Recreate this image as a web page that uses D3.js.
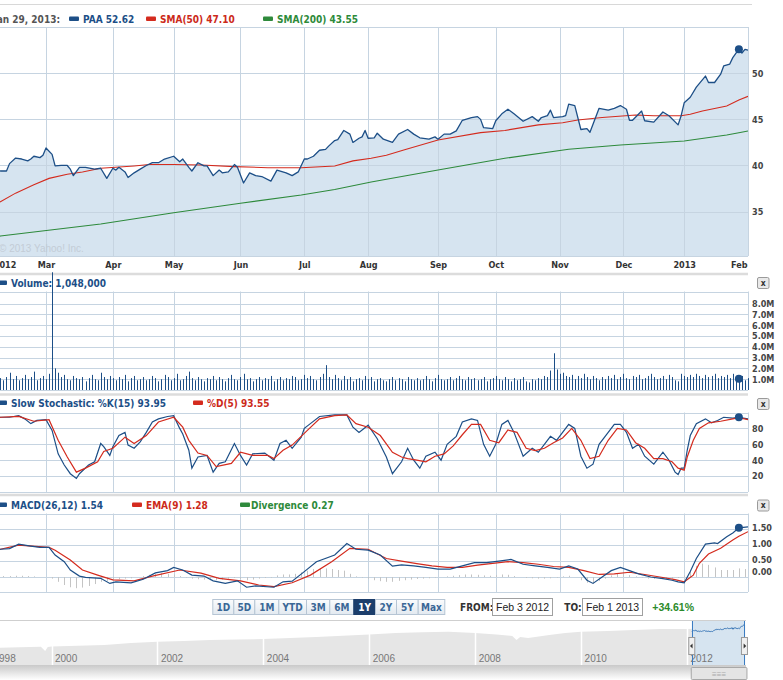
<!DOCTYPE html>
<html><head><meta charset="utf-8">
<script src="https://cdn.jsdelivr.net/npm/d3@7/dist/d3.min.js"></script>
<style>
html,body{margin:0;padding:0;background:#fff;overflow:hidden;}
svg{display:block;}
.b{font-family:"DejaVu Sans Condensed","DejaVu Sans",Verdana,sans-serif;font-weight:bold;}
.a{font-family:"Liberation Sans",Arial,sans-serif;}
</style></head><body>
<svg id="chart" width="783" height="680"></svg>
<script>
// ---------------- DATA ----------------
const holidays=["2012-02-20","2012-04-06","2012-05-28","2012-07-04","2012-09-03","2012-10-29","2012-10-30","2012-11-22","2012-12-25","2013-01-01","2013-01-21"];
const firstDate="2012-02-03", lastDate="2013-02-01", hoverDate="2013-01-29", hoverLabel="Jan 29, 2013:";
const monthLabels=["2012","Mar","Apr","May","Jun","Jul","Aug","Sep","Oct","Nov","Dec","2013","Feb"];
const priceTicks=[35,40,45,50];
const volumeTicks=[1,2,3,4,5,6,7,8];
const stochTicks=[20,40,60,80];
const macdTicks=[0,0.5,1,1.5];

// closing price (session number since Feb 3 2012 -> value)
const priceSession=[0,1,3,5,6,8,10,12,13,14,16,17,18,20,21,23,25,26,27,29,31,34,36,38,40,41,42,44,45,47,49,51,53,55,57,60,62,63,65,66,68,70,71,73,75,76,78,80,81,83,85,87,89,92,94,97,99,101,103,104,106,108,110,111,113,114,116,118,119,121,122,123,124,126,127,129,132,134,137,139,141,144,146,147,149,151,153,155,158,160,161,162,165,166,168,170,172,175,178,180,181,183,184,185,188,189,190,192,194,196,197,200,203,205,207,209,210,211,214,215,218,221,223,226,227,228,230,232,235,236,238,240,241,243,244,246,247,248,249];
const priceClose=[39.2,39.6,39.4,39.4,40.2,40.8,40.7,40.5,40.7,41.0,40.85,41.1,41.9,41.2,39.95,40.0,40.0,39.6,38.9,39.8,39.8,39.6,39.7,38.6,39.7,39.5,39.8,39.3,38.7,39.2,39.6,40.0,40.3,40.3,40.7,41.0,40.4,40.7,39.8,39.4,40.3,39.95,39.95,38.9,39.5,39.2,39.3,40.1,39.8,38.1,39.2,38.9,38.8,38.3,39.5,39.2,38.9,39.3,40.7,40.7,41.0,41.65,41.75,42.1,42.7,42.8,43.8,43.4,42.5,42.95,43.1,43.8,42.95,43.0,43.5,42.85,42.5,43.4,43.9,43.4,43.0,42.85,43.1,42.85,43.4,43.4,43.75,44.9,45.2,45.3,45.0,44.1,44.0,44.85,45.6,46.1,45.6,44.8,45.3,44.8,45.2,45.4,46.0,45.2,45.3,45.4,46.65,46.5,43.9,44.0,43.6,46.2,46.0,46.2,46.5,46.1,44.9,44.9,45.9,44.85,44.7,45.8,45.4,44.4,45.4,46.8,47.4,48.5,49.7,49.0,49.0,49.9,50.8,51.0,51.7,52.62,52.2,52.6,52.5];
const sma50Session=[0,3,8,14,19,25,30,36,47,52,60,69,80,91,102,113,119,125,130,136,147,161,169,180,188,193,201,212,218,227,230,234,242,246,249];
const sma50Value=[35.6,36.07,37.0,37.9,38.6,39.05,39.3,39.7,39.95,40.1,40.1,40.05,39.87,39.76,39.76,39.95,40.5,40.78,41.1,41.7,42.77,43.56,43.8,44.4,44.64,44.93,45.2,45.48,45.4,45.4,45.55,45.9,46.45,47.10,47.5];
const sma200Session=[0,3,36,60,82,102,113,125,147,169,190,207,228,242,246,249];
const sma200Value=[32.0,32.35,33.65,34.88,35.9,36.8,37.4,38.2,39.5,40.78,41.76,42.22,42.66,43.3,43.55,43.74];

// daily volume, millions of shares (one value per session)
const volume=[1.3,1.0,1.5,1.1,0.9,1.2,1.6,1.0,1.3,0.9,
1.1,1.4,1.0,1.2,1.7,0.9,1.1,1.3,1.0,1.5,
10.9,2.0,1.6,1.2,1.4,1.0,0.9,1.3,1.1,1.0,
1.2,0.8,1.1,1.4,1.0,0.9,1.6,1.2,1.0,1.3,
1.1,0.9,1.2,1.0,1.4,0.8,1.1,1.3,0.9,1.0,
1.2,0.9,1.0,1.3,1.1,0.8,1.0,1.4,1.2,0.9,
1.1,1.5,0.9,1.0,1.3,1.7,1.1,0.9,1.2,1.0,
0.8,1.1,1.0,1.3,0.9,1.2,1.0,0.8,1.1,1.4,
1.0,0.9,1.2,1.5,1.0,1.1,0.8,1.0,1.2,0.9,
1.1,1.0,1.3,0.8,1.0,1.2,0.9,1.1,1.0,1.3,
1.2,0.9,1.0,1.4,1.1,1.3,1.0,0.9,1.2,1.5,
2.3,1.2,1.0,1.4,1.1,0.9,1.3,1.0,1.2,0.8,
1.0,1.1,0.9,1.3,1.0,1.2,0.8,1.0,1.1,0.9,
0.8,1.0,1.2,0.9,1.1,1.0,0.8,1.2,1.0,0.9,
1.1,0.9,1.0,1.3,1.0,0.8,1.1,1.4,1.0,0.9,
1.0,1.2,0.9,1.1,1.3,1.0,0.9,1.2,1.0,1.1,
0.9,1.0,1.2,0.8,1.0,1.1,1.3,1.0,0.9,1.2,
1.0,0.8,1.1,0.9,1.0,1.2,0.8,0.7,1.0,0.9,
1.1,1.0,1.3,1.2,1.8,3.4,1.9,1.5,1.6,1.3,
1.2,1.4,1.0,1.3,1.1,1.5,1.2,1.0,1.3,1.1,
0.9,1.2,1.0,1.3,1.1,1.4,1.0,1.2,1.5,1.1,
1.0,1.3,1.2,1.4,1.0,1.1,1.3,1.5,1.2,1.0,
1.1,1.3,1.0,1.4,1.2,0.9,0.8,1.5,1.3,1.2,
1.4,1.2,1.5,1.3,1.1,1.4,1.2,1.3,1.5,1.1,
1.3,1.2,1.4,1.1,1.5,1.2,1.048,1.3,0.9,1.1];

// slow stochastic
const stochKSession=[0,3,6,9,11,13,15,18,20,22,24,26,28,29,32,34,36,37,39,40,42,44,45,47,49,51,53,55,58,60,62,63,65,66,68,71,73,75,77,80,82,84,86,90,93,95,97,99,102,103,105,108,113,117,119,121,124,127,130,132,135,137,139,141,143,146,148,150,153,155,158,160,162,164,166,168,170,172,175,178,180,182,184,186,188,190,192,194,196,198,200,203,205,207,209,211,213,215,218,221,223,225,226,227,228,229,230,232,235,237,239,241,244,246,249];
const stochK=[93,94,94,96,92,86,90,91,77.5,48,34,23,17,23,34,38,61,57,46,57,71,75,59,55,63,75,88,92,95,96,80,73,52.5,30,44,46,25,36,38,61,46,34,48,49,40,61,65,55,69,80,86,95,97,97,81.5,75,84,67,44,23,38,55,40,30,45,50,40,60,70,88,92,90,60,45,60,85,90,75,45,55,50,60,70,65,75,85,80,45,30,35,60,75,85,85,75,55,60,45,35,50,40,25,22,30,30,52.5,71,86,92,87,90,94,93,93.95,92];
const stochDSession=[0,3,9,14,19,22,25,28,31,35,37,40,44,47,51,55,60,63,65,68,71,74,79,82,86,91,93,96,99,104,108,113,117,120,124,128,132,135,137,140,143,146,149,152,155,158,161,164,167,170,173,176,179,182,185,188,191,194,197,200,203,206,209,212,215,218,221,224,226,228,229,231,233,236,240,244,246,249];
const stochD=[93,94,95,89,91,65,44,25,30,38,51,55,69,61,71,88,94,81.5,65,49,46,32,36,50,46,46,42,52.5,59,77.5,92,96,97,86,81.5,71,50,44,42,40,38,45,48,58,72,85,85,65,62,78,75,55,52,55,62,68,80,65,42,45,65,80,78,62,55,42,42,38,30,27.5,44,65,80,87,89,92,93.55,91];

// MACD
const macdSession=[0,3,6,9,13,16,19,21,24,26,29,31,36,39,41,46,50,54,58,60,63,66,70,73,77,81,84,87,93,96,99,103,107,113,117,120,124,128,132,135,139,143,147,151,155,159,163,167,171,175,179,183,187,190,193,196,198,201,204,207,210,213,217,221,224,226,228,230,232,235,238,239,242,244,246,249];
const macdValue=[0.85,0.87,0.89,1.03,0.97,0.93,0.93,0.69,0.48,0.22,0.03,-0.01,-0.04,-0.2,-0.15,-0.18,-0.07,0.13,0.2,0.3,0.22,0.06,0.03,-0.12,-0.2,-0.12,-0.32,-0.28,-0.32,-0.15,-0.13,0.17,0.48,0.69,1.05,0.87,0.84,0.69,0.34,0.38,0.35,0.3,0.25,0.25,0.35,0.45,0.45,0.5,0.55,0.4,0.35,0.3,0.25,0.35,0.25,-0.1,-0.2,0.0,0.2,0.3,0.2,0.1,0.0,-0.05,-0.1,-0.15,-0.18,0.17,0.58,1.03,1.07,1.05,1.26,1.38,1.54,1.57];
const emaSession=[0,3,9,19,21,26,30,35,40,47,53,62,69,75,82,88,93,99,105,112,118,124,130,135,140,145,150,155,160,165,170,175,180,185,190,195,200,205,210,215,220,225,228,231,233,236,240,244,246,249];
const emaValue=[0.85,0.87,1.0,0.93,0.84,0.53,0.22,0.06,-0.09,-0.12,0.03,0.22,0.12,-0.04,-0.12,-0.25,-0.3,-0.18,0.06,0.48,0.9,0.87,0.58,0.5,0.42,0.35,0.3,0.3,0.37,0.43,0.48,0.45,0.4,0.33,0.3,0.2,0.08,0.1,0.15,0.08,0.0,-0.08,-0.15,0.06,0.43,0.72,0.9,1.16,1.28,1.42];
// divergence histogram, every second session
const divergence=[0.0,0.02,0.03,0.03,0.04,0.04,0.03,0.02,0.0,0.0,
-0.05,-0.15,-0.25,-0.32,-0.35,-0.33,-0.28,-0.22,-0.15,-0.12,
-0.1,-0.07,-0.05,-0.04,0.0,0.03,0.07,0.1,0.12,0.1,
0.08,0.03,-0.02,-0.05,-0.07,-0.08,-0.1,-0.1,-0.08,-0.05,
-0.03,-0.06,-0.1,-0.08,-0.05,-0.03,-0.02,0.05,0.08,0.08,
0.1,0.15,0.2,0.25,0.28,0.27,0.25,0.22,0.2,0.1,
0.02,-0.02,-0.05,-0.1,-0.13,-0.15,-0.15,-0.12,-0.1,-0.08,
-0.06,-0.05,-0.04,-0.02,0.0,0.02,0.04,0.06,0.08,0.08,
0.07,0.05,0.04,0.06,0.08,0.07,0.03,0.0,-0.03,-0.04,
-0.05,-0.05,-0.04,-0.02,0.02,0.04,0.0,-0.1,-0.18,-0.2,
-0.12,-0.05,0.05,0.1,0.1,0.06,0.02,-0.02,-0.05,-0.06,
-0.06,-0.06,-0.05,-0.03,0.05,0.2,0.35,0.42,0.38,0.3,
0.22,0.22,0.22,0.27,0.25];

// navigator (long history), decimal year -> relative level
const navYear=[1998.8,1999.0,1999.4,1999.8,1999.88,1999.93,2000.0,2000.5,2001.0,2001.5,2002.0,2002.5,2003.0,2003.5,2004.0,2004.5,2005.0,2005.5,2006.0,2006.5,2007.0,2007.5,2008.0,2008.4,2008.7,2008.78,2008.85,2009.0,2009.4,2009.7,2010.0,2010.5,2011.0,2011.5,2012.0,2012.5,2013.1];
const navValue=[6.0,6.6,7.5,8.6,0,8.0,9.0,10.6,12.0,16.0,18.6,20,22,23,24,26,28,30.6,33,36,37.5,38.6,36,33,30,22,28,26,32,36,38.6,40,42,44,44,46,52];
const navTickYears=[1998,2000,2002,2004,2006,2008,2010,2012];
const rangeLabels=["1D","5D","1M","YTD","3M","6M","1Y","2Y","5Y","Max"];
const rangeSelected="1Y";
const fromText="Feb 3 2012", toText="Feb 1 2013", changeText="+34.61%";

// ---------------- CHART ----------------
const svg=d3.select("#chart");
const fmt=d3.utcFormat("%Y-%m-%d");
const parse=d3.utcParse("%Y-%m-%d");
const sessions=d3.utcDay.range(parse(firstDate),d3.utcDay.offset(parse(lastDate),1))
  .filter(d=>{const w=d.getUTCDay();return w!==0&&w!==6&&!holidays.includes(fmt(d));});
const N=sessions.length;
const monthTicks=sessions.map((d,i)=>i).filter(i=>i===0||sessions[i].getUTCMonth()!==sessions[i-1].getUTCMonth());
const hover=sessions.findIndex(d=>fmt(d)===hoverDate);

const BLUE="#1d4f87", RED="#d42b1e", GREEN="#2e8a3c", GRID="#c6d4e1", FILL="#d6e4f0";
const PL=-8.7, PR=748;
const x=d3.scaleLinear().domain([0,N-1]).range([PL,PR]);
const yP=d3.scaleLinear().domain([30.18,55.02]).range([256,27]);
const yV=d3.scaleLinear().domain([0,9.12]).range([390,291.5]);
const yS=d3.scaleLinear().domain([0,100]).range([492,412.5]);
const yM=d3.scaleLinear().domain([-0.469,1.99]).range([592,513.5]);
const px=v=>Math.round(v)+0.5;
const zip=(s,v)=>s.map((d,i)=>({s:d,v:v[i]}));
const valAt=(s,v,k)=>v[s.indexOf(k)];
const defs=svg.append("defs");

// top rule
svg.append("line").attr("x1",0).attr("x2",752).attr("y1",4.5).attr("y2",4.5).attr("stroke","#d8d8d8");

function grid(y,ticks,tickFmt,labelDy){
  const [b,t]=y.range();
  const g=svg.append("g");
  g.selectAll("line.v").data(monthTicks.slice(1,-1)).join("line")
    .attr("x1",d=>px(x(d))).attr("x2",d=>px(x(d))).attr("y1",t).attr("y2",b).attr("stroke",GRID);
  g.selectAll("line.h").data(ticks).join("line")
    .attr("x1",0).attr("x2",PR).attr("y1",d=>px(y(d))).attr("y2",d=>px(y(d))).attr("stroke",GRID);
  g.append("line").attr("x1",0).attr("x2",PR).attr("y1",px(t)).attr("y2",px(t)).attr("stroke",GRID);
  g.append("line").attr("x1",0).attr("x2",PR).attr("y1",px(b)).attr("y2",px(b)).attr("stroke",GRID);
  g.append("line").attr("x1",px(PR)).attr("x2",px(PR)).attr("y1",t).attr("y2",b).attr("stroke",GRID);
  const ax=svg.append("g").attr("transform",`translate(${PR},0)`)
    .call(d3.axisRight(y).tickValues(ticks).tickFormat(tickFmt).tickSize(0).tickPadding(4));
  ax.select(".domain").remove();
  ax.selectAll("text").attr("class","b").attr("font-size",9).attr("fill","#444")
    .attr("dy",(d,i)=>labelDy?labelDy(d):"0.32em");
  return g;
}
function clipFor(id,y){
  const [b,t]=y.range();
  defs.append("clipPath").attr("id",id).append("rect").attr("x",PL).attr("y",t).attr("width",PR-PL).attr("height",b-t);
}

// ---- main price panel ----
clipFor("cpMain",yP);
const price=zip(priceSession,priceClose);
svg.append("path").datum(price).attr("clip-path","url(#cpMain)")
  .attr("d",d3.area().x(d=>x(d.s)).y0(yP.range()[0]).y1(d=>yP(d.v))).attr("fill",FILL);
grid(yP,priceTicks,d3.format("d"));
svg.append("text").attr("class","a").attr("x",-1).attr("y",252).attr("font-size",10).attr("fill","#c3ccd6").text("\u00a9 2013 Yahoo! Inc.");
const ln=d3.line().x(d=>x(d.s)).y(d=>yP(d.v));
svg.append("path").datum(zip(sma200Session,sma200Value)).attr("clip-path","url(#cpMain)").attr("d",ln).attr("fill","none").attr("stroke",GREEN).attr("stroke-width",1.1);
svg.append("path").datum(zip(sma50Session,sma50Value)).attr("clip-path","url(#cpMain)").attr("d",ln).attr("fill","none").attr("stroke",RED).attr("stroke-width",1.1);
svg.append("path").datum(price).attr("clip-path","url(#cpMain)").attr("d",ln).attr("fill","none").attr("stroke",BLUE).attr("stroke-width",1.3).attr("stroke-linejoin","round");
svg.append("circle").attr("cx",x(hover)).attr("cy",yP(valAt(priceSession,priceClose,hover))).attr("r",4).attr("fill",BLUE);

// x axis (month labels)
const xa=svg.append("g").attr("transform","translate(0,256)")
  .call(d3.axisBottom(x).tickValues(monthTicks).tickFormat((d,i)=>monthLabels[i]).tickSize(0).tickPadding(6));
xa.select(".domain").remove();
xa.selectAll("text").attr("class","b").attr("font-size",9).attr("fill","#333")
  .attr("text-anchor",(d,i)=>i===0?"start":(i===monthTicks.length-1?"end":"middle"))
  .attr("dx",(d,i)=>i===0?2:(i===monthTicks.length-1?-1:0));

// separators
[274,394.5,495].forEach(yy=>svg.append("line").attr("x1",0).attr("x2",PR).attr("y1",yy).attr("y2",yy).attr("stroke","#dcdcdc").attr("stroke-width",2.5));

// legend helper
function legend(items,yBase){
  items.forEach(it=>{
    if(it.mark) svg.append("rect").attr("x",it.mx).attr("y",yBase-6.5).attr("width",10).attr("height",4.5).attr("rx",1).attr("fill",it.mark);
    svg.append("text").attr("class","b").attr("x",it.tx).attr("y",yBase).attr("font-size",10)
      .attr("fill",it.color).attr("text-anchor",it.anchor||"start").text(it.text);
  });
}
const f2=d3.format(".2f");
legend([
  {tx:60,anchor:"end",color:"#555",text:hoverLabel},
  {mx:69,mark:BLUE,tx:83,color:"#1c4f87",text:"PAA "+f2(valAt(priceSession,priceClose,hover))},
  {mx:146,mark:RED,tx:160,color:"#cc2a1a",text:"SMA(50) "+f2(valAt(sma50Session,sma50Value,hover))},
  {mx:263,mark:GREEN,tx:277,color:"#2d8a3a",text:"SMA(200) "+f2(valAt(sma200Session,sma200Value,hover))}
],23);

// close buttons
[277.5,398.5,500].forEach(yy=>{
  svg.append("rect").attr("x",757.5).attr("y",yy).attr("width",11.5).attr("height",11).attr("rx",1.5)
    .attr("fill","#e9e9e9").attr("stroke","#9a9a9a");
  svg.append("text").attr("class","b").attr("x",763.3).attr("y",yy+8.3).attr("font-size",8.5).attr("fill","#333").attr("text-anchor","middle").text("x");
});

// ---- volume panel ----
grid(yV,volumeTicks,d=>d.toFixed(1)+"M");
legend([{mx:-3,mark:BLUE,tx:11,color:"#1c4f87",text:"Volume: "+d3.format(",")(Math.round(volume[hover]*1e6))}],287);
svg.append("g").selectAll("line").data(volume).join("line")
  .attr("x1",(d,i)=>px(x(i))).attr("x2",(d,i)=>px(x(i))).attr("y1",yV(0)).attr("y2",d=>yV(d))
  .attr("stroke",BLUE).attr("stroke-width",1);
svg.append("circle").attr("cx",x(hover)).attr("cy",yV(volume[hover])).attr("r",4).attr("fill",BLUE);

// ---- stochastic panel ----
clipFor("cpSto",yS);
grid(yS,stochTicks,d3.format("d"));
legend([{mx:-3,mark:BLUE,tx:11,color:"#1c4f87",text:"Slow Stochastic: %K(15) "+f2(valAt(stochKSession,stochK,hover))},
        {mx:193,mark:RED,tx:207,color:"#cc2a1a",text:"%D(5) "+f2(valAt(stochDSession,stochD,hover))}],407);
const lnS=d3.line().x(d=>x(d.s)).y(d=>yS(d.v));
svg.append("path").datum(zip(stochKSession,stochK)).attr("clip-path","url(#cpSto)").attr("d",lnS).attr("fill","none").attr("stroke",BLUE).attr("stroke-width",1.2);
svg.append("path").datum(zip(stochDSession,stochD)).attr("clip-path","url(#cpSto)").attr("d",lnS).attr("fill","none").attr("stroke",RED).attr("stroke-width",1.2);
svg.append("circle").attr("cx",x(hover)).attr("cy",yS(valAt(stochKSession,stochK,hover))).attr("r",4).attr("fill",BLUE);

// ---- MACD panel ----
clipFor("cpM",yM);
grid(yM,macdTicks,d3.format(".2f"),d=>d===0?"-0.3em":"0.2em");
legend([{mx:-3,mark:BLUE,tx:11,color:"#1c4f87",text:"MACD(26,12) "+f2(valAt(macdSession,macdValue,hover))},
        {mx:132,mark:RED,tx:146,color:"#cc2a1a",text:"EMA(9) "+f2(valAt(emaSession,emaValue,hover))},
        {mx:240,mark:GREEN,tx:251,color:"#2d8a3a",text:"Divergence "+f2(divergence[hover/2])}],509);
svg.append("g").attr("clip-path","url(#cpM)").selectAll("line").data(divergence).join("line")
  .attr("x1",(d,i)=>px(x(i*2))).attr("x2",(d,i)=>px(x(i*2))).attr("y1",yM(0)).attr("y2",d=>yM(d))
  .attr("stroke","#c4c4c4").attr("stroke-width",1);
const lnM=d3.line().x(d=>x(d.s)).y(d=>yM(d.v));
svg.append("path").datum(zip(emaSession,emaValue)).attr("clip-path","url(#cpM)").attr("d",lnM).attr("fill","none").attr("stroke",RED).attr("stroke-width",1.2);
svg.append("path").datum(zip(macdSession,macdValue)).attr("clip-path","url(#cpM)").attr("d",lnM).attr("fill","none").attr("stroke",BLUE).attr("stroke-width",1.2);
svg.append("circle").attr("cx",x(hover)).attr("cy",yM(valAt(macdSession,macdValue,hover))).attr("r",4).attr("fill",BLUE);

// ---- range buttons / dates ----
const gb=defs.append("linearGradient").attr("id","gBtn").attr("x1",0).attr("x2",0).attr("y1",0).attr("y2",1);
gb.append("stop").attr("offset",0).attr("stop-color","#fbfcfd");
gb.append("stop").attr("offset",1).attr("stop-color","#e2e9f0");
const btnEdges=[212.3,233.3,254.3,278.3,306,329.3,353.3,375,396,417.7,444.3];
rangeLabels.forEach((lab,i)=>{
  const sel=lab===rangeSelected;
  svg.append("rect").attr("x",btnEdges[i]+0.5).attr("y",599.5).attr("width",btnEdges[i+1]-btnEdges[i]).attr("height",15)
    .attr("fill",sel?"#1c3e6b":"url(#gBtn)").attr("stroke",sel?"#1c3e6b":"#b6c5d4");
  svg.append("text").attr("class","b").attr("x",(btnEdges[i]+btnEdges[i+1])/2+0.5).attr("y",610.5).attr("font-size",10)
    .attr("text-anchor","middle").attr("fill",sel?"#fff":"#3a6796").text(lab);
});
svg.append("text").attr("class","b").attr("x",460).attr("y",611).attr("font-size",10).attr("fill","#333").text("FROM:");
svg.append("rect").attr("x",492.5).attr("y",598.5).attr("width",60).attr("height",17).attr("fill","#fff").attr("stroke","#a0a0a0");
svg.append("text").attr("class","a").attr("x",496).attr("y",611).attr("font-size",10.5).attr("fill","#222").text(fromText);
svg.append("text").attr("class","b").attr("x",564.3).attr("y",611).attr("font-size",10).attr("fill","#333").text("TO:");
svg.append("rect").attr("x",582.5).attr("y",598.5).attr("width",60).attr("height",17).attr("fill","#fff").attr("stroke","#a0a0a0");
svg.append("text").attr("class","a").attr("x",586).attr("y",611).attr("font-size",10.5).attr("fill","#222").text(toText);
svg.append("text").attr("class","a").attr("x",652.3).attr("y",611).attr("font-size",10.5).attr("font-weight","bold").attr("fill","#2a8a2a").text(changeText);

// ---- navigator ----
const navX=d3.scaleLinear().domain([2000,2012]).range([51.5,687]);
const navY=d3.scaleLinear().domain([-28,62]).range([665,620]);
const yearOf=i=>{const d=sessions[i];const y0=Date.UTC(d.getUTCFullYear(),0,1),y1=Date.UTC(d.getUTCFullYear()+1,0,1);return d.getUTCFullYear()+(d-y0)/(y1-y0);};
const wx0=navX(yearOf(0)), wx1=navX(yearOf(N-1));
svg.append("line").attr("x1",0).attr("x2",746).attr("y1",620.5).attr("y2",620.5).attr("stroke","#cfcfcf");
svg.append("path").datum(navYear.map((y,i)=>({y,v:navValue[i]})))
  .attr("d",d3.area().x(d=>navX(d.y)).y0(665).y1(d=>navY(d.v))).attr("fill","#e6e6e6");
svg.append("rect").attr("x",wx0).attr("y",621).attr("width",wx1-wx0).attr("height",44).attr("fill","#d6e4f0");
svg.selectAll("line.navsep").data(navTickYears).join("line")
  .attr("x1",d=>px(navX(d))).attr("x2",d=>px(navX(d))).attr("y1",621).attr("y2",665).attr("stroke","#fff").attr("stroke-width",1.5);
svg.selectAll("text.navlab").data(navTickYears).join("text").attr("class","a")
  .attr("x",d=>Math.max(navX(d)+3.5,-6.5)).attr("y",662).attr("font-size",10).attr("fill","#777").text(d=>d);
svg.append("path").datum(price).attr("d",d3.line().x(d=>navX(yearOf(d.s))).y(d=>navY(d.v))).attr("fill","none").attr("stroke","#3b78b8").attr("stroke-width",1);
[wx0,wx1].forEach(v=>svg.append("line").attr("x1",px(v)).attr("x2",px(v)).attr("y1",621).attr("y2",665).attr("stroke","#3b7cc2"));
// scrollbar
const gs=defs.append("linearGradient").attr("id","gScr").attr("x1",0).attr("x2",0).attr("y1",0).attr("y2",1);
gs.append("stop").attr("offset",0).attr("stop-color","#c9c9c9");
gs.append("stop").attr("offset",1).attr("stop-color","#ffffff");
svg.append("rect").attr("x",0).attr("y",665).attr("width",746).attr("height",15).attr("fill","url(#gScr)");
svg.append("rect").attr("x",wx0-0.5).attr("y",667.5).attr("width",wx1-wx0+3).attr("height",12).attr("rx",1).attr("fill","#e4e4e4").attr("stroke","#a8a8a8");
svg.append("text").attr("class","a").attr("x",(wx0+wx1)/2+1).attr("y",676.5).attr("font-size",8).attr("fill","#aaa").attr("text-anchor","middle").text("\u2261\u2261\u2261");
// handles
[[wx0,-1],[wx1,1]].forEach(([hx,dir])=>{
  svg.append("rect").attr("x",hx-3).attr("y",637.5).attr("width",6).attr("height",17).attr("fill","#f0f0f0").attr("stroke","#999");
  svg.append("path").attr("d",`M${hx+dir*1.8},646 L${hx-dir*0.8},643.5 L${hx-dir*0.8},648.5Z`).attr("fill","#333");
});
</script>
</body></html>
